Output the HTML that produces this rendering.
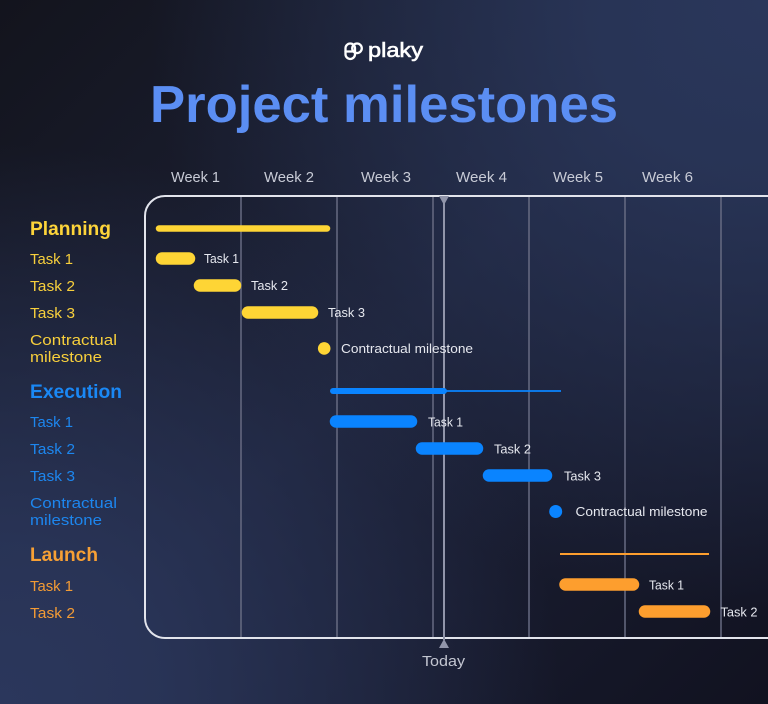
<!DOCTYPE html>
<html>
<head>
<meta charset="utf-8">
<style>
  html, body { margin:0; padding:0; }
  body {
    width:768px; height:704px; overflow:hidden;
    background:
      radial-gradient(circle at 100% 0%, rgba(42,55,91,1) 0px, rgba(42,55,91,0.85) 180px, rgba(42,55,91,0) 620px),
      radial-gradient(circle at 0% 100%, rgba(43,55,92,1) 0px, rgba(43,55,92,0.85) 160px, rgba(43,55,92,0) 560px),
      linear-gradient(135deg, #13141d 0%, #1d2238 50%, #111220 100%);
  }
  svg { position:absolute; left:0; top:0; }
  text { font-family:"Liberation Sans", sans-serif; }
</style>
</head>
<body>
<svg width="768" height="704" viewBox="0 0 768 704" xmlns="http://www.w3.org/2000/svg">
  <!-- Logo -->
  <g fill="none" stroke="#ffffff" stroke-width="2.3" stroke-linecap="round" stroke-linejoin="round">
    <rect x="345.5" y="43.5" width="9.5" height="15.5" rx="4.75"/>
    <circle cx="357" cy="48.3" r="4.8"/>
    <line x1="345.5" y1="51.5" x2="355" y2="51.5"/>
  </g>
  <text x="368" y="57" font-size="20" fill="#ffffff" stroke="#ffffff" stroke-width="0.6" textLength="55" lengthAdjust="spacingAndGlyphs">plaky</text>

  <!-- Title -->
  <text x="150" y="122" font-size="52" font-weight="bold" fill="#5b8ef3" textLength="468" lengthAdjust="spacingAndGlyphs">Project milestones</text>

  <!-- Week labels -->
  <g font-size="15" fill="#c8cbd6">
    <text x="171" y="182" textLength="49" lengthAdjust="spacingAndGlyphs">Week 1</text>
    <text x="264" y="182" textLength="50" lengthAdjust="spacingAndGlyphs">Week 2</text>
    <text x="361" y="182" textLength="50" lengthAdjust="spacingAndGlyphs">Week 3</text>
    <text x="456" y="182" textLength="51" lengthAdjust="spacingAndGlyphs">Week 4</text>
    <text x="553" y="182" textLength="50" lengthAdjust="spacingAndGlyphs">Week 5</text>
    <text x="642" y="182" textLength="51" lengthAdjust="spacingAndGlyphs">Week 6</text>
  </g>

  <!-- Gridlines -->
  <g stroke="#676b82" stroke-width="1.5">
    <line x1="241" y1="197" x2="241" y2="637"/>
    <line x1="337" y1="197" x2="337" y2="637"/>
    <line x1="433" y1="197" x2="433" y2="637"/>
    <line x1="529" y1="197" x2="529" y2="637"/>
    <line x1="625" y1="197" x2="625" y2="637"/>
    <line x1="721" y1="197" x2="721" y2="637"/>
  </g>

  <!-- Frame -->
  <path d="M790 196 L165 196 A20 20 0 0 0 145 216 L145 618 A20 20 0 0 0 165 638 L790 638" fill="none" stroke="#e2e4ec" stroke-width="2"/>

  <!-- Today line -->
  <line x1="444" y1="197" x2="444" y2="640" stroke="#9195aa" stroke-width="2"/>
  <polygon points="439,196 449,196 444,205" fill="#9195aa"/>
  <polygon points="439,648 449,648 444,639" fill="#9195aa"/>
  <text x="422" y="666" font-size="15" fill="#c3c6d1" textLength="43" lengthAdjust="spacingAndGlyphs">Today</text>

  <!-- Left labels -->
  <g font-size="15">
    <text x="30" y="235" font-size="19" font-weight="bold" fill="#fdd43a" textLength="81" lengthAdjust="spacingAndGlyphs">Planning</text>
    <g fill="#f7cf3c">
      <text x="30" y="264" textLength="43" lengthAdjust="spacingAndGlyphs">Task 1</text>
      <text x="30" y="291" textLength="45" lengthAdjust="spacingAndGlyphs">Task 2</text>
      <text x="30" y="318" textLength="45" lengthAdjust="spacingAndGlyphs">Task 3</text>
      <text x="30" y="345" textLength="87" lengthAdjust="spacingAndGlyphs">Contractual</text>
      <text x="30" y="362" textLength="72" lengthAdjust="spacingAndGlyphs">milestone</text>
    </g>
    <text x="30" y="398" font-size="19" font-weight="bold" fill="#1a88f5" textLength="92" lengthAdjust="spacingAndGlyphs">Execution</text>
    <g fill="#1d86ee">
      <text x="30" y="427" textLength="43" lengthAdjust="spacingAndGlyphs">Task 1</text>
      <text x="30" y="454" textLength="45" lengthAdjust="spacingAndGlyphs">Task 2</text>
      <text x="30" y="481" textLength="45" lengthAdjust="spacingAndGlyphs">Task 3</text>
      <text x="30" y="508" textLength="87" lengthAdjust="spacingAndGlyphs">Contractual</text>
      <text x="30" y="525" textLength="72" lengthAdjust="spacingAndGlyphs">milestone</text>
    </g>
    <text x="30" y="561" font-size="19" font-weight="bold" fill="#f7a035" textLength="68" lengthAdjust="spacingAndGlyphs">Launch</text>
    <g fill="#f39b35">
      <text x="30" y="591" textLength="43" lengthAdjust="spacingAndGlyphs">Task 1</text>
      <text x="30" y="618" textLength="45" lengthAdjust="spacingAndGlyphs">Task 2</text>
    </g>
  </g>

  <!-- Planning bars -->
  <g stroke="#fed535" stroke-linecap="round">
    <line x1="159" y1="228.5" x2="327" y2="228.5" stroke-width="6.5"/>
    <line x1="162" y1="258.5" x2="189" y2="258.5" stroke-width="12.5"/>
    <line x1="200" y1="285.5" x2="235" y2="285.5" stroke-width="12.5"/>
    <line x1="248" y1="312.5" x2="312" y2="312.5" stroke-width="12.5"/>
  </g>
  <circle cx="324.2" cy="348.4" r="6.3" fill="#fed535"/>

  <!-- Execution bars -->
  <g stroke="#0a84ff" stroke-linecap="round">
    <line x1="444" y1="391" x2="561" y2="391" stroke-width="1.8" stroke-linecap="butt"/>
    <line x1="333" y1="391" x2="444" y2="391" stroke-width="6" />
    <line x1="336" y1="421.5" x2="411" y2="421.5" stroke-width="12.5"/>
    <line x1="422" y1="448.5" x2="477" y2="448.5" stroke-width="12.5"/>
    <line x1="489" y1="475.5" x2="546" y2="475.5" stroke-width="12.5"/>
  </g>
  <circle cx="555.7" cy="511.5" r="6.5" fill="#0a84ff"/>

  <!-- Launch bars -->
  <g stroke="#fd9e2e" stroke-linecap="round">
    <line x1="560" y1="554" x2="709" y2="554" stroke-width="2" stroke-linecap="butt"/>
    <line x1="565.5" y1="584.5" x2="633" y2="584.5" stroke-width="12.5"/>
    <line x1="645" y1="611.5" x2="704" y2="611.5" stroke-width="12.5"/>
  </g>

  <!-- Bar labels -->
  <g font-size="13" fill="#e6e8ef">
    <text x="204" y="263" textLength="35" lengthAdjust="spacingAndGlyphs">Task 1</text>
    <text x="251" y="290" textLength="37" lengthAdjust="spacingAndGlyphs">Task 2</text>
    <text x="328" y="317" textLength="37" lengthAdjust="spacingAndGlyphs">Task 3</text>
    <text x="341" y="353" textLength="132" lengthAdjust="spacingAndGlyphs">Contractual milestone</text>
    <text x="428" y="426.5" textLength="35" lengthAdjust="spacingAndGlyphs">Task 1</text>
    <text x="494" y="453.5" textLength="37" lengthAdjust="spacingAndGlyphs">Task 2</text>
    <text x="564" y="480.5" textLength="37" lengthAdjust="spacingAndGlyphs">Task 3</text>
    <text x="575.5" y="516" textLength="132" lengthAdjust="spacingAndGlyphs">Contractual milestone</text>
    <text x="649" y="589.5" textLength="35" lengthAdjust="spacingAndGlyphs">Task 1</text>
    <text x="720.5" y="616.5" textLength="37" lengthAdjust="spacingAndGlyphs">Task 2</text>
  </g>
</svg>
</body>
</html>
